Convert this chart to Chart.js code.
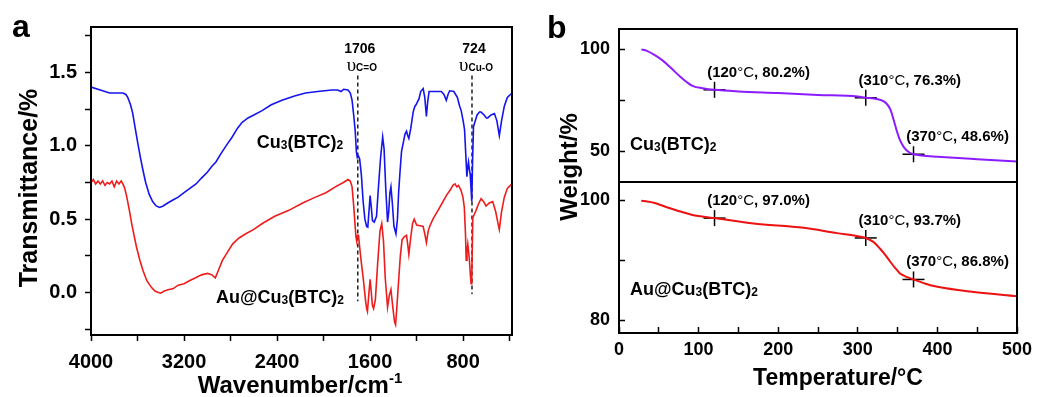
<!DOCTYPE html>
<html>
<head>
<meta charset="utf-8">
<script src="https://cdn.jsdelivr.net/npm/chart.js@4.4.1/dist/chart.umd.min.js"></script>
<style>
  body { margin: 0; background: #fff; }
  #wrap { position: relative; width: 1037px; height: 397px; }
  canvas { position: absolute; left: 0; top: 0; }
</style>
</head>
<body>
<div id="wrap">
  <canvas id="ftir" width="1037" height="397"></canvas>
  <canvas id="tgaTop" width="1037" height="397"></canvas>
  <canvas id="tgaBottom" width="1037" height="397"></canvas>
</div>
<script>
// ---- panel a: FTIR ----
const waveTicks = [4000, 3600, 3200, 2800, 2400, 2000, 1600, 1200, 800, 400];
const transTicks = [-0.25, 0, 0.25, 0.5, 0.75, 1, 1.25, 1.5, 1.75];

const blueWave = [4000, 3920, 3840, 3760, 3726, 3700, 3684, 3660, 3641, 3620, 3598, 3575, 3555, 3530, 3500,
  3470, 3440, 3410, 3380, 3340, 3296, 3250, 3200, 3150, 3097, 3050, 3000, 2960, 2926, 2880, 2830, 2786,
  2740, 2700, 2650, 2600, 2529, 2450, 2358, 2250, 2156, 2050, 1931, 1880, 1850, 1828, 1790, 1770, 1755,
  1740, 1728, 1718, 1710, 1700, 1690, 1675, 1660, 1645, 1630, 1620, 1610, 1600, 1590, 1580, 1565, 1545,
  1530, 1510, 1492, 1480, 1465, 1450, 1440, 1430, 1421, 1410, 1395, 1378, 1365, 1355, 1344, 1330, 1315,
  1300, 1287, 1277, 1267, 1250, 1230, 1215, 1205, 1193, 1180, 1165, 1144, 1130, 1116, 1105, 1093, 1050,
  1020, 988, 965, 945, 930, 916, 880, 850, 830, 817, 800, 788, 778, 768, 760, 754, 747, 740, 733, 726,
  719, 711, 700, 680, 660, 646, 620, 600, 589, 560, 531, 510, 489, 470, 446, 420, 380];
const blueTrans = [1.40, 1.38, 1.36, 1.36, 1.36, 1.35, 1.33, 1.28, 1.22, 1.12, 1.02, 0.92, 0.84, 0.75, 0.67,
  0.62, 0.59, 0.58, 0.59, 0.61, 0.63, 0.65, 0.68, 0.71, 0.74, 0.78, 0.82, 0.86, 0.89, 0.95, 1.01, 1.06,
  1.12, 1.16, 1.19, 1.21, 1.24, 1.28, 1.31, 1.34, 1.36, 1.37, 1.38, 1.38, 1.37, 1.385, 1.38, 1.36, 1.31,
  1.20, 1.10, 0.96, 0.92, 0.93, 0.91, 0.80, 0.62, 0.50, 0.45, 0.445, 0.55, 0.66, 0.58, 0.49, 0.48, 0.52,
  0.70, 0.92, 1.06, 0.98, 0.70, 0.48, 0.55, 0.68, 0.72, 0.62, 0.45, 0.40, 0.50, 0.68, 0.81, 0.96, 1.02,
  1.08, 1.10, 1.07, 1.05, 1.12, 1.23, 1.27, 1.28, 1.30, 1.32, 1.37, 1.39, 1.33, 1.20, 1.30, 1.37, 1.37,
  1.37, 1.37, 1.35, 1.31, 1.35, 1.375, 1.37, 1.33, 1.27, 1.24, 1.17, 1.11, 0.95, 0.79, 0.86, 0.89, 0.84, 0.81, 0.72, 0.62,
  0.90, 1.13, 1.16, 1.21, 1.23, 1.23, 1.21, 1.19, 1.19, 1.21, 1.22, 1.17, 1.07, 1.17, 1.27, 1.33, 1.36];

const redWave = [4000, 3980, 3960, 3940, 3920, 3900, 3880, 3860, 3840, 3820, 3800, 3780, 3760, 3740, 3726,
  3710, 3692, 3670, 3650, 3630, 3609, 3580, 3553, 3520, 3481, 3450, 3420, 3400, 3370, 3330, 3296, 3250,
  3200, 3154, 3100, 3050, 2997, 2960, 2931, 2900, 2869, 2830, 2783, 2730, 2669, 2600, 2527, 2420, 2299,
  2180, 2070, 1980, 1899, 1830, 1790, 1771, 1755, 1740, 1734, 1722, 1715, 1708, 1700, 1690, 1675, 1657,
  1640, 1630, 1623, 1610, 1600, 1590, 1580, 1570, 1555, 1535, 1515, 1500, 1485, 1470, 1450, 1435, 1421,
  1405, 1390, 1381, 1370, 1355, 1340, 1325, 1307, 1287, 1277, 1267, 1250, 1235, 1221, 1200, 1170, 1144,
  1130, 1116, 1100, 1088, 1060, 1016, 980, 945, 910, 888, 870, 855, 840, 820, 802, 790, 780, 774, 767,
  760, 752, 746, 738, 732, 726, 717, 700, 689, 670, 646, 625, 603, 575, 546, 520, 500, 489, 470, 446, 420, 380];
const redTrans = [0.75, 0.77, 0.74, 0.76, 0.74, 0.76, 0.73, 0.75, 0.74, 0.76, 0.72, 0.76, 0.74, 0.76, 0.74,
  0.71, 0.65, 0.56, 0.47, 0.39, 0.31, 0.22, 0.15, 0.08, 0.035, 0.01, 0.0, -0.005, 0.01, 0.02, 0.025, 0.05,
  0.06, 0.08, 0.10, 0.12, 0.13, 0.12, 0.10, 0.16, 0.22, 0.27, 0.33, 0.37, 0.40, 0.43, 0.47, 0.52, 0.56,
  0.61, 0.65, 0.68, 0.72, 0.75, 0.77, 0.76, 0.72, 0.58, 0.51, 0.38, 0.35, 0.39, 0.39, 0.31, 0.20, 0.08,
  -0.05, -0.11, -0.13, 0.0, 0.09, 0.0, -0.09, -0.11, -0.05, 0.20, 0.42, 0.47, 0.35, 0.10, -0.10, -0.02, 0.02,
  -0.10, -0.20, -0.22, -0.10, 0.08, 0.25, 0.36, 0.38, 0.39, 0.33, 0.26, 0.38, 0.47, 0.50, 0.46, 0.455, 0.45,
  0.40, 0.34, 0.42, 0.45, 0.50, 0.56, 0.61, 0.66, 0.70, 0.73, 0.74, 0.72, 0.73, 0.70, 0.65, 0.58, 0.40, 0.22, 0.28,
  0.33, 0.27, 0.22, 0.12, 0.06, 0.10, 0.51, 0.54, 0.56, 0.60, 0.64, 0.62, 0.59, 0.61, 0.62, 0.55, 0.47, 0.43, 0.55, 0.65, 0.71, 0.74];

const peakWave = [1706, 724];
const peakBond = ['C=O', 'Cu-O'];
const peakTop = [1.48, 1.48];
const peakBottom = [-0.06, -0.01];

// ---- panel b: TGA ----
const tempTicks = [0, 50, 100, 150, 200, 250, 300, 350, 400, 450, 500];
const cuTicks = [50, 75, 100];
const auTicks = [80, 90, 100];

const cuTemp = [28, 35, 45, 55, 65, 77, 85, 93, 105, 120, 150, 200, 250, 300, 310, 320, 330, 336, 341, 345,
  349, 353, 358, 364, 370, 380, 400, 450, 500];
const cuWeight = [100, 99.3, 97.2, 94.5, 91, 86.6, 84, 82, 81, 80.2, 79.4, 78.6, 77.7, 76.9, 76.3, 75.9, 75.0,
  73.5, 70.5, 65.5, 60, 55.5, 52, 49.7, 48.6, 48.0, 47.4, 46.2, 45.1];
const auTemp = [28, 45, 60, 77, 90, 102, 120, 169, 232, 274, 300, 310, 320, 328, 335, 341, 347, 353, 362,
  370, 385, 400, 441, 500];
const auWeight = [99.9, 99.5, 98.8, 98.1, 97.6, 97.3, 97.0, 96.1, 95.4, 94.5, 94.0, 93.7, 93.0, 91.9, 90.8,
  89.7, 88.7, 87.8, 87.2, 86.8, 86.1, 85.6, 84.8, 84.0];

const markTemp = [120, 310, 370];
const cuMarkWeight = [80.2, 76.3, 48.6];
const auMarkWeight = [97.0, 93.7, 86.8];

const FAMILY = '"Liberation Sans", Arial, sans-serif';
const B = (s) => `bold ${s}px ${FAMILY}`;
const N = (s) => `${s}px ${FAMILY}`;
const pts = (xs, ys) => xs.map((x, i) => ({ x, y: ys[i] }));

Chart.defaults.font.family = FAMILY;
Chart.defaults.color = '#000';

// draw a row of text pieces with different fonts, y is the baseline
function runs(ctx, parts, x, y, align = 'center') {
  let w = 0;
  parts.forEach(([t, f]) => { ctx.font = f; w += ctx.measureText(t).width; });
  let cx = align === 'center' ? x - w / 2 : x;
  parts.forEach(([t, f, dy = 0]) => {
    ctx.font = f;
    ctx.fillText(t, cx, y + dy);
    cx += ctx.measureText(t).width;
  });
}

function formula(prefix, big, small) {
  return [[prefix + 'Cu', B(big)], ['3', B(small), 1], ['(BTC)', B(big)], ['2', B(small), 1]];
}

function frame(chart) {
  const { ctx, chartArea: a } = chart;
  ctx.strokeStyle = '#000';
  ctx.lineWidth = 2;
  ctx.strokeRect(a.left, a.top, a.right - a.left, a.bottom - a.top);
  ctx.fillStyle = '#000';
  ctx.textAlign = 'left';
  ctx.textBaseline = 'alphabetic';
}

function axis(o) {
  return {
    type: 'linear',
    position: o.position,
    min: o.min,
    max: o.max,
    reverse: !!o.reverse,
    afterBuildTicks: (s) => { s.ticks = o.ticks.map((v) => ({ value: v })); },
    afterFit: (s) => {
      if (o.position === 'left') s.width = o.size;
      else s.height = o.size;
      // layout padding alone decides where the plot box sits
      s.paddingLeft = s.paddingRight = s.paddingTop = s.paddingBottom = 0;
    },
    border: { display: false },
    grid: { drawOnChartArea: false, tickLength: o.tick, tickColor: '#000', tickWidth: 1.5 },
    ticks: {
      autoSkip: false,
      maxRotation: 0,
      padding: o.pad,
      color: '#000',
      font: { size: o.font, weight: 'bold' },
      callback: o.label,
    },
  };
}

const noPlugins = { legend: { display: false }, tooltip: { enabled: false } };

// ---------- panel a ----------
const ftirDeco = {
  id: 'ftirDeco',
  afterDraw(chart) {
    const { ctx } = chart;
    ctx.save();
    frame(chart);
    runs(ctx, [['a', B(32)]], 12, 37, 'left');
    peakWave.forEach((w, i) => {
      const x = chart.scales.x.getPixelForValue(w) + 2;
      runs(ctx, [[String(w), B(14)]], x, 53);
      runs(ctx, [['υ', '19px "Liberation Serif", serif'], [peakBond[i], B(10)]], x + 2, 71);
    });
    runs(ctx, formula('', 18, 12), 300, 148);
    runs(ctx, formula('Au@', 18, 12), 280, 303);
    runs(ctx, [['Wavenumber/cm', B(24)], ['-1', B(15), -10]], 300, 393);
    ctx.translate(37, 188);
    ctx.rotate(-Math.PI / 2);
    runs(ctx, [['Transmittance/%', B(25)]], 0, 0);
    ctx.restore();
  },
};

new Chart(document.getElementById('ftir'), {
  type: 'line',
  data: {
    datasets: [
      { data: pts(blueWave, blueTrans), borderColor: '#1414f0', borderWidth: 1.6 },
      { data: pts(redWave, redTrans), borderColor: '#ee1c1c', borderWidth: 1.6 },
      ...peakWave.map((w, i) => ({
        data: [{ x: w, y: peakTop[i] }, { x: w, y: peakBottom[i] }],
        borderColor: '#222',
        borderWidth: 1.5,
        borderDash: [4, 3],
      })),
    ],
  },
  options: {
    responsive: false,
    animation: false,
    layout: { padding: { left: 0, top: 27, right: 525, bottom: 0 } },
    elements: { point: { radius: 0 }, line: { tension: 0 } },
    plugins: noPlugins,
    scales: {
      x: axis({ position: 'bottom', min: 380, max: 4000, reverse: true, ticks: waveTicks, size: 62,
        tick: 6, pad: 9, font: 20, label: (v) => (v % 800 === 0 ? v : '') }),
      y: axis({ position: 'left', min: -0.29, max: 1.81, ticks: transTicks, size: 91,
        tick: 6, pad: 8, font: 20, label: (v) => (Math.abs(v * 2 - Math.round(v * 2)) < 1e-6 ? v.toFixed(1) : '') }),
    },
  },
  plugins: [ftirDeco],
});

// ---------- panel b ----------
function markSets(weights) {
  return [
    { data: pts(markTemp, weights), showLine: false, pointStyle: 'line', pointRadius: 11,
      pointBorderColor: '#000', pointBorderWidth: 1.5 },
    { data: pts(markTemp, weights), showLine: false, pointStyle: 'line', pointRotation: 90, pointRadius: 8,
      pointBorderColor: '#000', pointBorderWidth: 1.5 },
  ];
}

function markLabels(chart, weights) {
  const { ctx } = chart;
  markTemp.forEach((t, i) => {
    const x = chart.scales.x.getPixelForValue(t) + 44;
    const y = chart.scales.y.getPixelForValue(weights[i]) - 13;
    runs(ctx, [['(' + t, B(15)], ['°C', N(15)], [', ' + weights[i].toFixed(1) + '%)', B(15)]], x, y);
  });
}

const topDeco = {
  id: 'topDeco',
  afterDraw(chart) {
    const { ctx } = chart;
    ctx.save();
    frame(chart);
    runs(ctx, [['b', B(32)]], 547, 38, 'left');
    markLabels(chart, cuMarkWeight);
    runs(ctx, formula('', 18, 12), 630, 150, 'left');
    ctx.translate(577, 167);
    ctx.rotate(-Math.PI / 2);
    runs(ctx, [['Weight/%', B(24)]], 0, 0);
    ctx.restore();
  },
};

const bottomDeco = {
  id: 'bottomDeco',
  afterDraw(chart) {
    const { ctx } = chart;
    ctx.save();
    frame(chart);
    markLabels(chart, auMarkWeight);
    runs(ctx, formula('Au@', 18, 12), 630, 295, 'left');
    runs(ctx, [['Temperature/°C', B(23)]], 838, 385);
    ctx.restore();
  },
};

new Chart(document.getElementById('tgaTop'), {
  type: 'line',
  data: {
    datasets: [
      { data: pts(cuTemp, cuWeight), borderColor: '#8c1cff', borderWidth: 2, cubicInterpolationMode: 'monotone' },
      ...markSets(cuMarkWeight),
    ],
  },
  options: {
    responsive: false,
    animation: false,
    layout: { padding: { left: 520, top: 29, right: 20, bottom: 215 } },
    elements: { point: { radius: 0 } },
    plugins: noPlugins,
    scales: {
      x: { type: 'linear', min: 0, max: 500, display: false },
      y: axis({ position: 'left', min: 35, max: 110, ticks: cuTicks, size: 99,
        tick: -6, pad: 15, font: 18, label: (v) => (v % 50 === 0 ? v : '') }),
    },
  },
  plugins: [topDeco],
});

new Chart(document.getElementById('tgaBottom'), {
  type: 'line',
  data: {
    datasets: [
      { data: pts(auTemp, auWeight), borderColor: '#ee1111', borderWidth: 2, cubicInterpolationMode: 'monotone' },
      ...markSets(auMarkWeight),
    ],
  },
  options: {
    responsive: false,
    animation: false,
    layout: { padding: { left: 520, top: 182, right: 20, bottom: 0 } },
    elements: { point: { radius: 0 } },
    plugins: noPlugins,
    scales: {
      x: axis({ position: 'bottom', min: 0, max: 500, ticks: tempTicks, size: 64,
        tick: -6, pad: 12, font: 18, label: (v) => (v % 100 === 0 ? v : '') }),
      y: axis({ position: 'left', min: 77.9, max: 103, ticks: auTicks, size: 99,
        tick: -6, pad: 15, font: 18, label: (v) => (v % 20 === 0 ? v : '') }),
    },
  },
  plugins: [bottomDeco],
});
</script>
</body>
</html>
